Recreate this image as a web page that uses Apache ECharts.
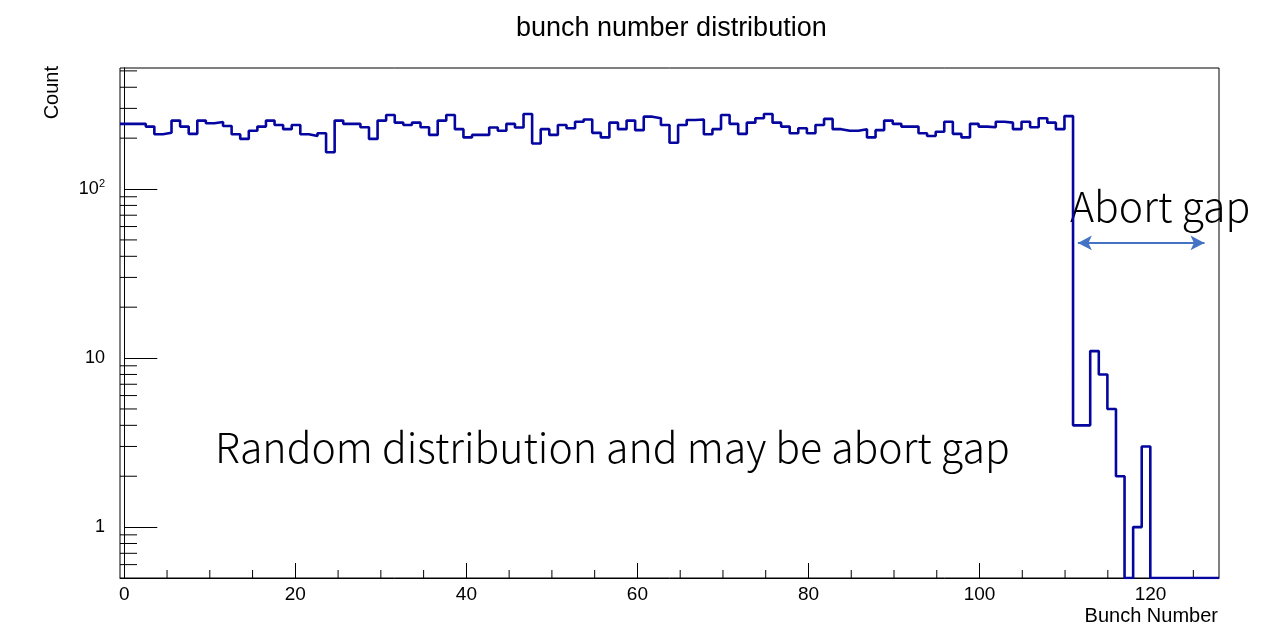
<!DOCTYPE html>
<html>
<head>
<meta charset="utf-8">
<title>bunch number distribution</title>
<script src="https://cdn.jsdelivr.net/npm/echarts@6/dist/echarts.min.js"></script>
<style>
  html, body { margin: 0; padding: 0; background: #fff; }
  #chart { width: 1270px; height: 639px; }
</style>
</head>
<body>
<div id="chart"></div>
<script>
// histogram binning (ROOT style: 128 bins from -0.5 to 128)
const nBins = 128
const xLow = -0.5
const xHigh = 128
const yMin = 0.5
const yMax = 520

// counts per bunch
const counts = [
  243, 243, 243, 234, 211, 215, 254, 234, 212, 254,
  245, 249, 236, 211, 198, 221, 234, 254, 239, 226,
  239, 211, 206, 214, 165, 254, 243, 243, 232, 198,
  254, 274, 247, 239, 247, 232, 209, 254, 274, 226,
  202, 209, 209, 231, 221, 243, 231, 278, 186, 226,
  209, 239, 229, 250, 258, 215, 202, 247, 226, 254,
  223, 268, 262, 239, 188, 239, 256, 258, 211, 226,
  274, 243, 212, 247, 262, 278, 247, 234, 214, 229,
  214, 239, 260, 226, 221, 221, 226, 202, 223, 254,
  243, 234, 234, 214, 206, 218, 250, 212, 202, 243,
  234, 232, 250, 247, 226, 250, 232, 262, 247, 226,
  270, 4, 4, 11, 8, 5, 2, 0, 1, 3,
  0, 0, 0, 0, 0, 0, 0, 0
]

const xTickValues = [0, 20, 40, 60, 80, 100, 120]
const xMinorTickValues = [5, 10, 15, 25, 30, 35, 45, 50, 55, 65, 70, 75, 85, 90, 95, 105, 110, 115, 125]
const yMinorTickValues = [0.6, 0.7, 0.8, 0.9, 2, 3, 4, 5, 6, 7, 8, 9, 20, 30, 40, 50, 60, 70, 80, 90, 200, 300, 400, 500]

const histColor = '#0505a0'
const arrowColor = '#4472c4'
const labelFont = 'Liberation Sans'

// step points: left edge of every bin + right edge of the last one
const binWidth = (xHigh - xLow) / nBins
const histPoints = counts.map((c, i) => [xLow + i * binWidth, Math.max(c, yMin)])
histPoints.push([xHigh, Math.max(counts[nBins - 1], yMin)])

const chart = echarts.init(document.getElementById('chart'))

// short minor ticks drawn through the axes' own scales
function tickSeries(values, isX, len) {
  return {
    type: 'custom',
    silent: true,
    clip: false,
    z: 5,
    data: values.map(v => isX ? [v, yMin] : [xLow, v]),
    renderItem(params, api) {
      const p = api.coord([api.value(0), api.value(1)])
      const shape = isX
        ? { x1: p[0], y1: p[1], x2: p[0], y2: p[1] - len }
        : { x1: p[0], y1: p[1], x2: p[0] + len, y2: p[1] }
      return { type: 'line', shape, style: { stroke: '#000', lineWidth: 1 } }
    }
  }
}

const option = {
  backgroundColor: '#fff',
  animation: false,
  title: {
    text: 'bunch number distribution',
    left: 511,
    top: 10,
    textStyle: { fontFamily: labelFont, fontSize: 27, fontWeight: 'normal', color: '#000' }
  },
  grid: {
    left: 120,
    right: 51,
    top: 68,
    bottom: 61,
    show: true,
    borderColor: '#000',
    borderWidth: 1,
    backgroundColor: '#fff',
    outerBoundsMode: 'none'
  },
  xAxis: {
    type: 'value',
    min: xLow,
    max: xHigh,
    axisLine: { show: true, lineStyle: { color: '#000', width: 1 } },
    axisTick: { show: true, inside: true, length: 15, customValues: xTickValues, lineStyle: { color: '#000' } },
    axisLabel: { customValues: xTickValues, margin: 7, color: '#000', fontFamily: labelFont, fontSize: 19 },
    splitLine: { show: false }
  },
  yAxis: {
    type: 'log',
    logBase: 10,
    min: yMin,
    max: yMax,
    axisLine: { show: true, lineStyle: { color: '#000', width: 1 } },
    axisTick: { show: true, inside: true, length: 33, lineStyle: { color: '#000' } },
    axisLabel: {
      showMinLabel: false,
      showMaxLabel: false,
      margin: 15,
      color: '#000',
      fontFamily: labelFont,
      fontSize: 18,
      formatter: v => v >= 100 ? '{b|10}{s|' + Math.round(Math.log10(v)) + '}' : String(v),
      rich: {
        b: { fontFamily: labelFont, fontSize: 18, color: '#000', lineHeight: 22 },
        s: { fontFamily: labelFont, fontSize: 11, color: '#000', verticalAlign: 'top', lineHeight: 22 }
      }
    },
    splitLine: { show: false }
  },
  series: [
    {
      name: 'bunch number',
      type: 'line',
      step: 'end',
      data: histPoints,
      showSymbol: false,
      symbol: 'none',
      lineStyle: { color: histColor, width: 2.6 },
      z: 10,
      markLine: {
        silent: true,
        symbol: ['arrow', 'arrow'],
        symbolSize: [11, 14],
        label: { show: false },
        lineStyle: { color: arrowColor, width: 2, type: 'solid' },
        data: [[{ coord: [111.5, 48] }, { coord: [126.3, 48] }]]
      }
    },
    tickSeries(xMinorTickValues, true, 8),
    tickSeries(yMinorTickValues, false, 17)
  ],
  graphic: [
    {
      type: 'text', left: 42, top: 66, rotation: Math.PI / 2,
      style: { text: 'Count', font: '20px "Liberation Sans"', fill: '#000', align: 'right', verticalAlign: 'middle' }
    },
    {
      type: 'text', right: 52, top: 606,
      style: { text: 'Bunch Number', font: '20px "Liberation Sans"', fill: '#000' }
    },
    {
      type: 'text', left: 1070, top: 186,
      style: { text: 'Abort gap', font: '300 41px "Noto Sans CJK JP"', fill: '#000' }
    },
    {
      type: 'text', left: 215, top: 427,
      style: { text: 'Random distribution and may be abort gap', font: '300 41px "Noto Sans CJK JP"', fill: '#000' }
    }
  ]
}

chart.setOption(option)
</script>
</body>
</html>
